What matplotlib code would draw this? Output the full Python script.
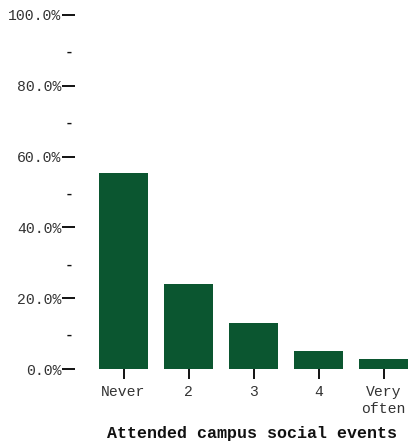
import matplotlib
matplotlib.use("Agg")
import matplotlib.pyplot as plt
from matplotlib.ticker import FixedLocator, FuncFormatter

categories = ["Never", "2", "3", "4", "Very\noften"]
values = [55.4, 24.0, 13.0, 5.1, 2.8]
major_ticks = [0, 20, 40, 60, 80, 100]
minor_ticks = [10, 30, 50, 70, 90]
xlabel = "Attended campus social events"

plt.rcParams['font.family'] = ['Liberation Mono', 'DejaVu Sans Mono']

W, H = 409, 448
fig = plt.figure(figsize=(W / 100, H / 100), dpi=100)
ax_left, ax_right, ax_bottom, ax_top = 75, 409, 448 - 369, 448 - 15
ax = fig.add_axes([ax_left / W, ax_bottom / H, (ax_right - ax_left) / W, (ax_top - ax_bottom) / H])

x = list(range(len(categories)))
ax.bar(x, values, width=49 / 65, color="#0b5630")

ax.set_xlim(-48.5 / 65, (409 - 123.5) / 65)
ax.set_ylim(0, 100)
for s in ax.spines.values():
    s.set_visible(False)

ax.set_xticks(x)
ax.set_xticklabels(categories, fontsize=10.6, color="#333333", linespacing=1.3)
ax.tick_params(axis='x', length=7.2, width=1.4, color="#111111", pad=4)

ax.yaxis.set_major_locator(FixedLocator(major_ticks))
ax.yaxis.set_major_formatter(FuncFormatter(lambda v, p: f"{v:.1f}%"))
ax.yaxis.set_minor_locator(FixedLocator(minor_ticks))
ax.yaxis.set_minor_formatter(FuncFormatter(lambda v, p: "-"))
ax.tick_params(axis='y', which='major', length=9.4, width=1.4, color="#111111",
               labelsize=10.6, labelcolor="#333333", pad=0.3)
ax.tick_params(axis='y', which='minor', length=0, labelsize=10.6,
               labelcolor="#111111", pad=0.8)
for t in ax.yaxis.get_minorticklabels():
    t.set_fontweight('bold')

lab = ax.set_xlabel(xlabel, fontsize=12, fontweight='bold', color="#111111")
lab.set_va('center')
ax.xaxis.set_label_coords((252 - ax_left) / (ax_right - ax_left), -(433 - 369) / (369 - 15))

fig.savefig("out.png", dpi=100)
